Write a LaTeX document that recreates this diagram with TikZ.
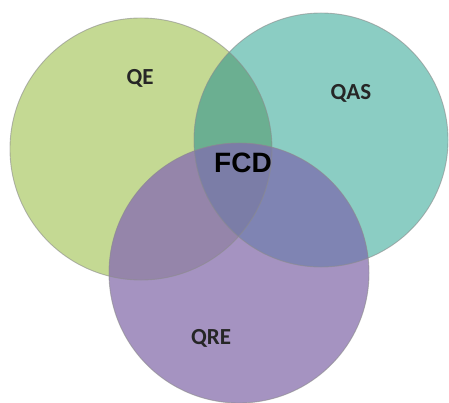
\documentclass[tikz,border=0pt]{standalone}
\usepackage{fontspec}
\setmainfont{Carlito}
\newfontfamily\fcdfont{Liberation Sans}
\usetikzlibrary{positioning}

\definecolor{qegreen}{HTML}{C4D993}
\definecolor{qasteal}{HTML}{8BCDC3}
\definecolor{qrepurple}{HTML}{A593C1}
\definecolor{gtmix}{HTML}{6BAF91}
\definecolor{gpmix}{HTML}{9585AA}
\definecolor{tpmix}{HTML}{7F84B3}
\definecolor{allmix}{HTML}{7B7DA7}

\begin{document}
\begin{tikzpicture}[x=1pt,y=-1pt,
  lab/.style={font=\bfseries\fontsize{23}{23}\selectfont, text=black!85},
  rim/.style={draw=black!45, draw opacity=0.6, line width=0.9pt}]
  \useasboundingbox (0,0) rectangle (449,403);

  % Mittelpunkte
  \coordinate (E) at (141,149);
  \coordinate (A) at (321,140);
  \coordinate (R) at (239,273);
  \def\rE{131}
  \def\rA{127}
  \def\rR{130}

  % Kreise
  \fill[qegreen] (E) circle (\rE);
  \fill[qasteal] (A) circle (\rA);
  \fill[qrepurple] (R) circle (\rR);

  % Schnittflaechen
  \begin{scope}
    \clip (E) circle (\rE);
    \fill[gtmix] (A) circle (\rA);
    \fill[gpmix] (R) circle (\rR);
  \end{scope}
  \begin{scope}
    \clip (A) circle (\rA);
    \fill[tpmix] (R) circle (\rR);
    \clip (E) circle (\rE);
    \fill[allmix] (R) circle (\rR);
  \end{scope}

  % Raender
  \draw[rim] (E) circle (\rE);
  \draw[rim] (A) circle (\rA);
  \draw[rim] (R) circle (\rR);

  % Beschriftung
  \node[lab] (qe) at (140,78) {QE};
  \node[lab] (qas) at (351,93) {QAS};
  \node[lab] (qre) at (211,338) {QRE};
  \node[font=\fcdfont\bfseries\fontsize{28}{28}\selectfont] (fcd) at (243,163) {FCD};
\end{tikzpicture}
\end{document}
